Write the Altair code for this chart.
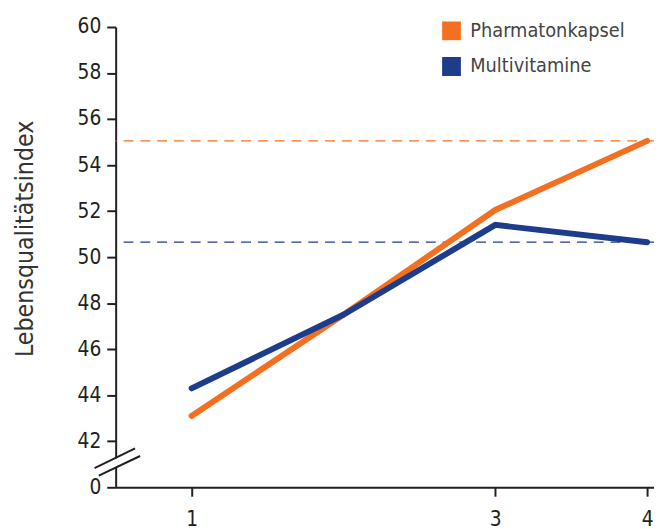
import altair as alt
import pandas as pd

months = [1, 2, 3, 4]
pharmaton = [43.1, 47.5, 52.05, 55.05]
multivit = [44.3, 47.5, 51.4, 50.65]
series_names = ["Pharmatonkapsel", "Multivitamine"]
colors = ["#F37021", "#1D3C8C"]
y_ticks = [40, 42, 44, 46, 48, 50, 52, 54, 56, 58, 60]
x_ticks = [1, 3, 4]

# axis-break marker (two slashes), in data units
brk_x = [0.361, 0.389]
brk_x2 = [0.628, 0.661]
brk_y = [40.83, 40.51]
brk_y2 = [41.69, 41.36]

FONT = "Liberation Sans Narrow, DejaVu Sans Condensed, sans-serif"

rows = []
for m, a, b in zip(months, pharmaton, multivit):
    rows.append({"Monat": m, "Wert": a, "Gruppe": series_names[0]})
    rows.append({"Monat": m, "Wert": b, "Gruppe": series_names[1]})
df = pd.DataFrame(rows)

ref_a = pd.DataFrame({"Wert": [pharmaton[-1]]})
ref_b = pd.DataFrame({"Wert": [multivit[-1]]})
brk = pd.DataFrame({"x": brk_x, "x2": brk_x2, "y": brk_y, "y2": brk_y2})
gap = pd.DataFrame({"x": [sum(brk_x) / 2 + 0.03], "x2": [sum(brk_x2) / 2 - 0.03],
                    "y": [sum(brk_y) / 2], "y2": [sum(brk_y2) / 2]})

xscale = alt.Scale(domain=[0.5, 4.045], nice=False, zero=False)
yscale = alt.Scale(domain=[40, 60], nice=False, zero=False)
cscale = alt.Scale(domain=series_names, range=colors)
legend = alt.Legend(title=None, orient="none", legendX=330, legendY=-6,
                    symbolType="square", symbolSize=81,
                    symbolStrokeWidth=10, symbolOpacity=1,
                    labelFont=FONT, labelFontSize=20,
                    labelColor="#444444", labelOffset=9,
                    clipHeight=20, rowPadding=16)

xenc = alt.X("Monat:Q", scale=xscale,
             axis=alt.Axis(values=x_ticks, title=None, grid=False, tickSize=9, tickWidth=2,
                           domainWidth=2, domainColor="#231F20", tickColor="#231F20",
                           labelFontSize=21, labelColor="#231F20", labelFont=FONT,
                           labelPadding=13, format="d"))
yenc = alt.Y("Wert:Q", scale=yscale,
             axis=alt.Axis(values=y_ticks, title="Lebensqualitätsindex", grid=False,
                           tickSize=9, tickWidth=2, domainWidth=2, domainColor="#231F20",
                           tickColor="#231F20", labelFontSize=21, labelColor="#231F20",
                           labelFont=FONT, labelPadding=6,
                           labelExpr="datum.value == 40 ? '0' : datum.label",
                           titleFont=FONT, titleFontSize=25, titleFontWeight="normal",
                           titleColor="#333333", titleX=-92, titleY=214, titleAngle=-90,
                           titleBaseline="middle", titleAlign="center"))

lines = alt.Chart(df).mark_line(strokeWidth=6, strokeCap="round").encode(
    x=xenc, y=yenc,
    color=alt.Color("Gruppe:N", scale=cscale, sort=series_names, legend=legend),
)

refs_a = alt.Chart(ref_a).mark_rule(strokeWidth=1.2, strokeDash=[10, 7], color=colors[0]).encode(
    y=alt.Y("Wert:Q", scale=yscale))
refs_b = alt.Chart(ref_b).mark_rule(strokeWidth=1.2, strokeDash=[10, 7], color=colors[1]).encode(
    y=alt.Y("Wert:Q", scale=yscale))

gap_mark = alt.Chart(gap).mark_rule(strokeWidth=7, color="white").encode(
    x=alt.X("x:Q", scale=xscale), x2="x2", y=alt.Y("y:Q", scale=yscale), y2="y2")

slashes = alt.Chart(brk).mark_rule(strokeWidth=2, color="#231F20").encode(
    x=alt.X("x:Q", scale=xscale), x2="x2", y=alt.Y("y:Q", scale=yscale), y2="y2")

chart = alt.layer(refs_a, refs_b, lines, gap_mark, slashes).properties(
    width=545, height=466,
    autosize=alt.AutoSizeParams(type="none"),
    padding={"left": 109, "top": 16, "right": 0, "bottom": 39},
).configure_view(stroke=None)

chart.save("out.html", embed_options={"renderer": "svg", "actions": False})
